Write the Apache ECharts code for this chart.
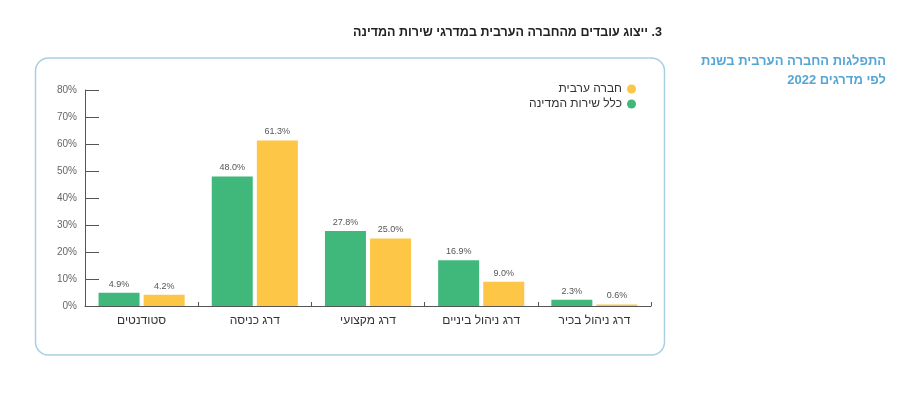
<!DOCTYPE html>
<html>
<head>
<meta charset="utf-8">
<title>ייצוג עובדים מהחברה הערבית</title>
<script src="https://cdn.jsdelivr.net/npm/echarts@6/dist/echarts.min.js"></script>
<style>
  html, body { margin: 0; padding: 0; background: #fff; }
  #chart { width: 900px; height: 397px; }
</style>
</head>
<body>
<div id="chart"></div>
<script>
var categories = ["סטודנטים", "דרג כניסה", "דרג מקצועי", "דרג ניהול ביניים", "דרג ניהול בכיר"];
var allService = [4.9, 48.0, 27.8, 16.9, 2.3];   // כלל שירות המדינה
var arabSociety = [4.2, 61.3, 25.0, 9.0, 0.6];   // חברה ערבית
var yTicks = [0, 10, 20, 30, 40, 50, 60, 70, 80];

var fontFamily = "'Liberation Sans', 'DejaVu Sans', sans-serif";
var green = "#40b87c";
var yellow = "#fdc646";
var sideBlue = "#55a6d6";

var myChart = echarts.init(document.getElementById("chart"));

var option = {
  backgroundColor: "#fff",
  textStyle: { fontFamily: fontFamily },
  animation: false,
  graphic: [
    {
      type: "rect",
      shape: { x: 35.5, y: 58, width: 629, height: 297, r: 13 },
      style: { fill: "none", stroke: "#a9cfe2", lineWidth: 1.5 }
    },
    {
      type: "text",
      x: 662, y: 33,
      style: {
        text: "\u202B3. ייצוג עובדים מהחברה הערבית במדרגי שירות המדינה\u202C",
        align: "right", verticalAlign: "middle",
        font: "bold 12.5px " + fontFamily, fill: "#222"
      }
    },
    {
      type: "text",
      x: 886, y: 61,
      style: {
        text: "התפלגות החברה הערבית בשנת",
        align: "right", verticalAlign: "middle",
        font: "bold 13px " + fontFamily, fill: sideBlue
      }
    },
    {
      // two rich fragments so the year stays on the left like the reference
      type: "text",
      x: 886, y: 80,
      style: {
        text: "{n|2022} {h|לפי מדרגים}",
        align: "right", verticalAlign: "middle",
        font: "bold 13px " + fontFamily, fill: sideBlue,
        rich: {
          n: { font: "bold 13px " + fontFamily, fill: sideBlue },
          h: { font: "bold 13px " + fontFamily, fill: sideBlue }
        }
      }
    }
  ],
  legend: {
    orient: "vertical",
    align: "right",
    right: 259,
    top: 78,
    icon: "circle",
    itemWidth: 9,
    itemHeight: 9,
    itemGap: 3,
    data: ["חברה ערבית", "כלל שירות המדינה"],
    textStyle: { fontSize: 12, color: "#333", fontFamily: fontFamily }
  },
  grid: { left: 85, right: 249, top: 90, bottom: 91 },
  xAxis: {
    type: "category",
    data: categories,
    axisLine: { lineStyle: { color: "#555", width: 1 } },
    axisTick: { show: true, inside: true, length: 4, lineStyle: { color: "#555" } },
    axisLabel: { color: "#333", fontSize: 12, margin: 9, fontFamily: fontFamily }
  },
  yAxis: {
    type: "value",
    min: yTicks[0],
    max: yTicks[yTicks.length - 1],
    interval: 10,
    axisLine: { show: true, lineStyle: { color: "#555", width: 1 } },
    axisTick: { show: true, inside: true, length: 14, lineStyle: { color: "#555" } },
    splitLine: { show: false },
    axisLabel: { formatter: "{value}%", color: "#666", fontSize: 10, margin: 8, fontFamily: fontFamily }
  },
  series: [
    {
      name: "כלל שירות המדינה",
      type: "bar",
      data: allService,
      barWidth: 41,
      barGap: "10%",
      itemStyle: { color: green },
      label: {
        show: true, position: "top", distance: 4,
        formatter: function (p) { return p.value.toFixed(1) + "%"; },
        fontSize: 9, color: "#555", fontFamily: fontFamily
      }
    },
    {
      name: "חברה ערבית",
      type: "bar",
      data: arabSociety,
      barWidth: 41,
      itemStyle: { color: yellow },
      label: {
        show: true, position: "top", distance: 4,
        formatter: function (p) { return p.value.toFixed(1) + "%"; },
        fontSize: 9, color: "#555", fontFamily: fontFamily
      }
    }
  ]
};

myChart.setOption(option);
</script>
</body>
</html>
